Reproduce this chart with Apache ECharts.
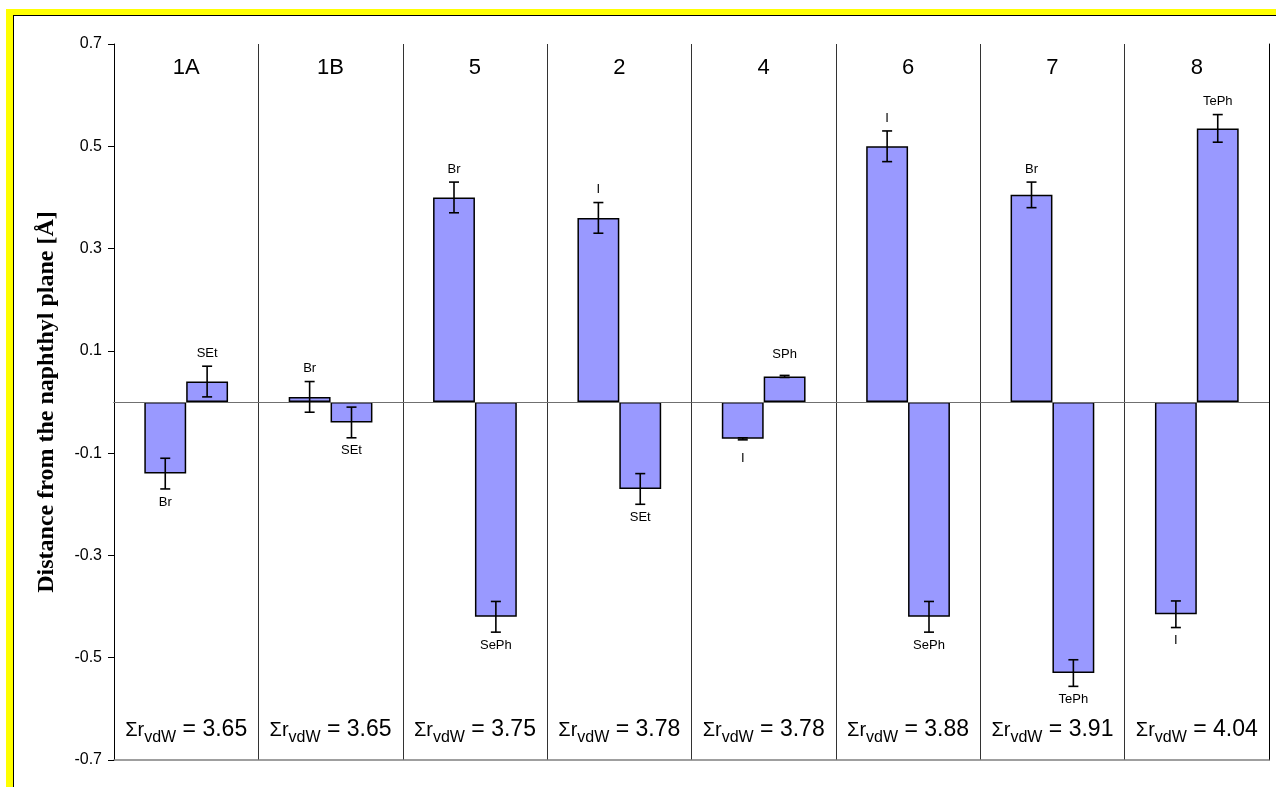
<!DOCTYPE html>
<html>
<head>
<meta charset="utf-8">
<script src="https://cdn.jsdelivr.net/npm/echarts@6/dist/echarts.min.js"></script>
<style>
    html, body { margin: 0; padding: 0; background: #fff; }
    #frame {
        position: absolute; left: 6px; top: 9px; width: 1400px; height: 1000px;
        border-left: 7px solid #ffff00; border-top: 6px solid #ffff00;
    }
    #frame_inner {
        width: 100%; height: 100%;
        border-left: 1px solid #000; border-top: 1px solid #000;
    }
    #chart_distance { position: absolute; left: 0; top: 0; width: 1276px; height: 787px; }
</style>
</head>
<body>
<div id="frame"><div id="frame_inner"></div></div>
<div id="chart_distance"></div>
<script>
// compounds, left to right
var groups = ['1A', '1B', '5', '2', '4', '6', '7', '8'];
var sumRvdW = ['3.65', '3.65', '3.75', '3.78', '3.78', '3.88', '3.91', '4.04'];

// first peri atom (halogen)
var firstAtom = ['Br', 'Br', 'Br', 'I', 'I', 'I', 'Br', 'I'];
var firstDist = [-0.14, 0.01, 0.40, 0.36, -0.072, 0.50, 0.405, -0.415];
var firstErr = [0.03, 0.03, 0.03, 0.03, 0.002, 0.03, 0.025, 0.026];

// second peri group (chalcogen)
var secondAtom = ['SEt', 'SEt', 'SePh', 'SEt', 'SPh', 'SePh', 'TePh', 'TePh'];
var secondDist = [0.04, -0.04, -0.42, -0.17, 0.05, -0.42, -0.53, 0.535];
var secondErr = [0.03, 0.03, 0.03, 0.03, 0.002, 0.03, 0.026, 0.027];

var yMin = -0.7, yMax = 0.7, yStep = 0.2;

var FONT = "'Liberation Sans', Arial, sans-serif";
var BAR_WIDTH = 0.29;

function errorSeries(name, dists, errs, labels, side) {
    return {
        name: name + ' error',
        type: 'custom',
        z: 5,
        data: dists.map(function (v, i) { return [i, v, errs[i]]; }),
        renderItem: function (params, api) {
            var idx = api.value(0);
            var v = api.value(1);
            var e = api.value(2);
            var band = api.size([1, 0])[0];
            var x = api.coord([idx, 0])[0] + side * band * BAR_WIDTH / 2;
            var yHi = api.coord([idx, v + e])[1];
            var yLo = api.coord([idx, v - e])[1];
            var yBar = api.coord([idx, v])[1];
            var cap = 5;
            var lineStyle = { stroke: '#000', lineWidth: 1.6 };
            var ty = v >= 0 ? Math.min(yHi - 13, yBar - 22) : Math.max(yLo + 13, yBar + 20);
            return {
                type: 'group',
                children: [
                    { type: 'line', shape: { x1: x, y1: yHi, x2: x, y2: yLo }, style: lineStyle },
                    { type: 'line', shape: { x1: x - cap, y1: yHi, x2: x + cap, y2: yHi }, style: lineStyle },
                    { type: 'line', shape: { x1: x - cap, y1: yLo, x2: x + cap, y2: yLo }, style: lineStyle },
                    {
                        type: 'text',
                        style: {
                            text: labels[params.dataIndex], x: x, y: ty,
                            align: 'center', verticalAlign: 'middle',
                            font: '13px ' + FONT, fill: '#000'
                        }
                    }
                ]
            };
        }
    };
}

var chartInstance = echarts.init(document.getElementById('chart_distance'));

var barStyle = { color: '#9999ff', borderColor: '#000', borderWidth: 1.5 };

chartInstance.setOption({
    animation: false,
    grid: { left: 114, right: 7, top: 44, bottom: 27 },
    xAxis: [
        {
            type: 'category',
            data: groups,
            position: 'bottom',
            axisLine: { onZero: false, lineStyle: { color: '#808080', width: 1.5 } },
            axisTick: { show: false },
            splitLine: { show: true, interval: 0, lineStyle: { color: '#333', width: 1 } },
            axisLabel: {
                inside: true,
                interval: 0,
                margin: 14,
                formatter: function (value, index) {
                    return '{sig|\u03a3r}{sub|vdW}{main| = ' + sumRvdW[index] + '}';
                },
                rich: {
                    sig: { fontSize: 20, fontFamily: FONT, color: '#000', lineHeight: 32 },
                    sub: { fontSize: 16, fontFamily: FONT, color: '#000', lineHeight: 16, verticalAlign: 'bottom' },
                    main: { fontSize: 23, fontFamily: FONT, color: '#000', lineHeight: 32 }
                }
            }
        },
        {
            type: 'category',
            data: groups,
            position: 'top',
            axisLine: { lineStyle: { color: '#000', width: 1 } },
            axisTick: { show: false },
            axisLabel: {
                inside: true,
                interval: 0,
                margin: 13,
                fontSize: 22,
                fontFamily: FONT,
                color: '#000'
            }
        }
    ],
    yAxis: [
        {
            type: 'value',
            min: yMin,
            max: yMax,
            interval: yStep,
            name: 'Distance from the naphthyl plane [\u00c5]',
            nameLocation: 'middle',
            nameGap: 55,
            nameTextStyle: {
                fontFamily: "'Liberation Serif', 'Times New Roman', serif",
                fontWeight: 'bold',
                fontSize: 24,
                color: '#000'
            },
            axisLine: { show: true, lineStyle: { color: '#000', width: 1 } },
            axisTick: { show: true, length: 6, lineStyle: { color: '#000' } },
            splitLine: { show: false },
            axisLabel: {
                margin: 12,
                fontSize: 16,
                fontFamily: FONT,
                color: '#000',
                formatter: function (v) { return v.toFixed(1); }
            }
        },
        {
            type: 'value',
            min: yMin,
            max: yMax,
            interval: yStep,
            position: 'right',
            axisLine: { show: true, lineStyle: { color: '#000', width: 1 } },
            axisTick: { show: false },
            axisLabel: { show: false },
            splitLine: { show: false }
        }
    ],
    series: [
        {
            name: 'halogen',
            type: 'bar',
            barWidth: (BAR_WIDTH * 100) + '%',
            barGap: '0%',
            itemStyle: barStyle,
            data: firstDist,
            markLine: {
                silent: true,
                symbol: 'none',
                label: { show: false },
                lineStyle: { color: '#707070', width: 1, type: 'solid' },
                data: [{ yAxis: 0 }]
            }
        },
        {
            name: 'chalcogen',
            type: 'bar',
            barWidth: (BAR_WIDTH * 100) + '%',
            barGap: '0%',
            itemStyle: barStyle,
            data: secondDist
        },
        errorSeries('halogen', firstDist, firstErr, firstAtom, -1),
        errorSeries('chalcogen', secondDist, secondErr, secondAtom, 1)
    ]
});
</script>
</body>
</html>
